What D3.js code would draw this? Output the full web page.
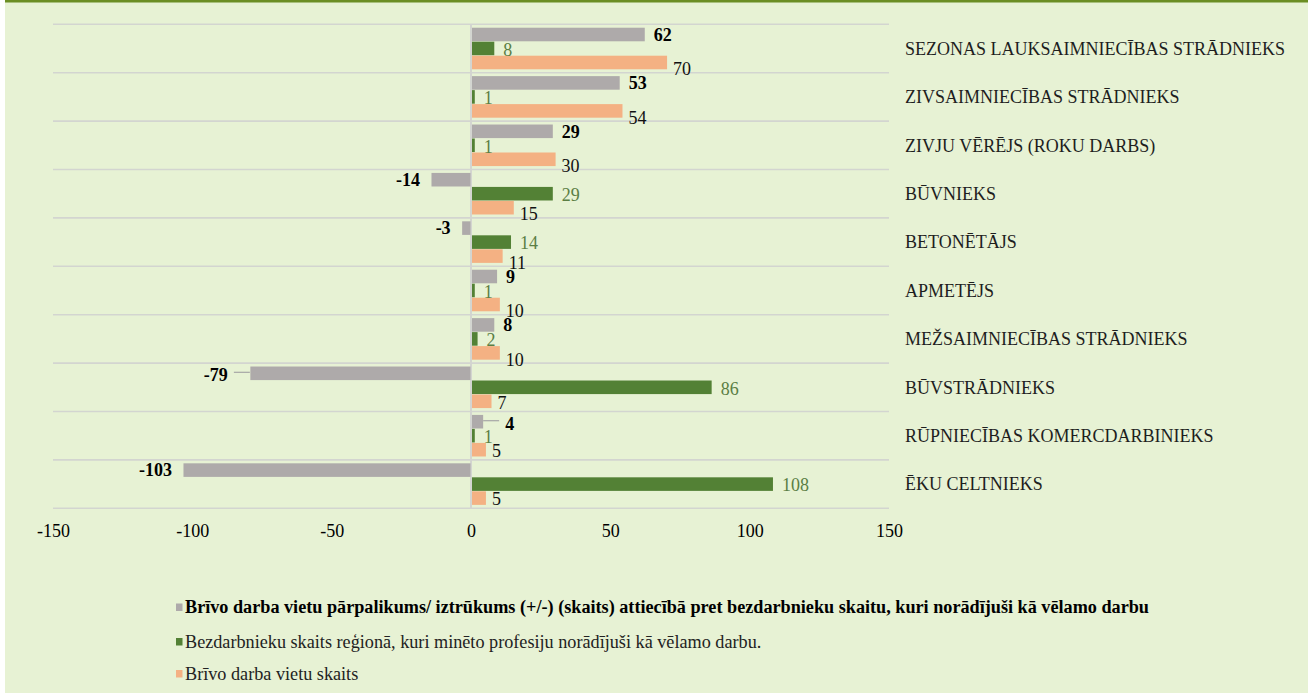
<!DOCTYPE html>
<html>
<head>
<meta charset="utf-8">
<script src="https://cdn.jsdelivr.net/npm/d3@7"></script>
<style>
  html, body { margin: 0; padding: 0; background: #ffffff; }
  svg { display: block; }
  svg text { font-family: "Liberation Serif", "Times New Roman", Times, serif !important; }
</style>
</head>
<body>
<svg id="chart" width="1308" height="693" font-family="Liberation Serif"></svg>
<script>
// ---- data ----
const categories = [
  "SEZONAS LAUKSAIMNIECĪBAS STRĀDNIEKS",
  "ZIVSAIMNIECĪBAS STRĀDNIEKS",
  "ZIVJU VĒRĒJS (ROKU DARBS)",
  "BŪVNIEKS",
  "BETONĒTĀJS",
  "APMETĒJS",
  "MEŽSAIMNIECĪBAS STRĀDNIEKS",
  "BŪVSTRĀDNIEKS",
  "RŪPNIECĪBAS KOMERCDARBINIEKS",
  "ĒKU CELTNIEKS"
];
const balance    = [62, 53, 29, -14, -3, 9, 8, -79, 4, -103];
const unemployed = [8, 1, 1, 29, 14, 1, 2, 86, 1, 108];
const vacancies  = [70, 54, 30, 15, 11, 10, 10, 7, 5, 5];
const seriesNames = [
  "Brīvo darba vietu pārpalikums/ iztrūkums (+/-) (skaits) attiecībā pret bezdarbnieku skaitu, kuri norādījuši kā vēlamo darbu",
  "Bezdarbnieku skaits reģionā, kuri minēto profesiju norādījuši kā vēlamo darbu.",
  "Brīvo darba vietu skaits"
];
const xTicks = [-150, -100, -50, 0, 50, 100, 150];
const leaderCategories = ["BŪVSTRĀDNIEKS", "RŪPNIECĪBAS KOMERCDARBINIEKS"];

// ---- styles ----
const FONT = '"Liberation Serif", "Times New Roman", Times, serif';
const colors = ["#aeaaaa", "#538135", "#f4b183"];
const labelColors = ["#000000", "#5b7e44", "#111111"];
const seriesKeys = ["balance", "unemployed", "vacancies"];
const seriesValues = [balance, unemployed, vacancies];

const svg = d3.select("#chart");
// background
svg.append("rect").attr("x", 5).attr("y", 0).attr("width", 1303).attr("height", 693).attr("fill", "#e7f2d4");
svg.append("rect").attr("x", 5).attr("y", 0).attr("width", 1303).attr("height", 2.5).attr("fill", "#6b8e23");

const x = d3.scaleLinear().domain([-150, 150]).range([53, 889]);
const y = d3.scaleBand().domain(categories).range([24.3, 508.3]).paddingInner(0).paddingOuter(0);
const ys = d3.scaleBand().domain(seriesKeys).range([3, y.bandwidth() - 3]).padding(0.03);

// horizontal gridlines at category boundaries
const bounds = categories.map(c => y(c)).concat([y.range()[1]]);
svg.append("g").selectAll("line").data(bounds).join("line")
  .attr("x1", x(-150)).attr("x2", x(150))
  .attr("y1", d => d).attr("y2", d => d)
  .attr("stroke", "#d3d5d0").attr("stroke-width", 1.6);

// zero axis line
svg.append("line")
  .attr("x1", x(0)).attr("x2", x(0))
  .attr("y1", y.range()[0]).attr("y2", y.range()[1])
  .attr("stroke", "#d3d5d0").attr("stroke-width", 2);

// bars
const rows = categories.map((c, i) => ({ c, vals: seriesValues.map(s => s[i]) }));
const gRows = svg.append("g").selectAll("g").data(rows).join("g")
  .attr("transform", d => `translate(0,${y(d.c)})`);

gRows.selectAll("rect").data(d => d.vals.map((v, k) => ({ v, k }))).join("rect")
  .attr("x", d => x(Math.min(0, d.v)) + (d.v >= 0 ? 1 : -0.5))
  .attr("width", d => Math.abs(x(d.v) - x(0)))
  .attr("y", d => ys(seriesKeys[d.k]))
  .attr("height", ys.bandwidth())
  .attr("fill", d => colors[d.k]);

// data labels
gRows.each(function (d) {
  const g = d3.select(this);
  const leader = leaderCategories.includes(d.c);
  d.vals.forEach((v, k) => {
    const cy = ys(seriesKeys[k]) + ys.bandwidth() / 2;
    let tx, anchor = "start", ty = cy;
    if (k === 0) {
      const off = leader ? 23 : (v >= 0 ? 10 : 12);
      if (v >= 0) { tx = x(v) + off; } else { tx = x(v) - off; anchor = "end"; }
      ty = leader ? cy + 1.5 : cy;
      if (leader) {
        const dir = v >= 0 ? 1 : -1;
        g.append("line")
          .attr("x1", x(v) + dir * 1).attr("x2", x(v) + dir * 17)
          .attr("y1", cy - 1).attr("y2", cy - 1)
          .attr("stroke", "#a6a6a6").attr("stroke-width", 1.2);
      }
    } else if (k === 1) {
      tx = x(v) + 10; ty = cy + 1;
    } else {
      tx = x(v) + 7; ty = cy + (v >= 10 ? 6.5 : 1);
    }
    g.append("text")
      .attr("x", tx).attr("y", ty).attr("dy", "0.35em")
      .attr("text-anchor", anchor)
      .attr("font-size", 18)
      .attr("font-weight", k === 0 ? "bold" : "normal")
      .attr("fill", labelColors[k])
      .style("font-family", FONT)
      .text(v);
  });
});

// category labels on the right
svg.append("g").selectAll("text").data(categories).join("text")
  .attr("x", 905).attr("y", d => y(d) + y.bandwidth() / 2).attr("dy", "0.35em")
  .attr("font-size", 18).attr("fill", "#1e1e1e")
  .style("font-family", FONT)
  .text(d => d);

// x axis tick labels
const axis = d3.axisBottom(x).tickValues(xTicks).tickSize(0).tickPadding(0).tickFormat(d => String(d));
const gAxis = svg.append("g").attr("transform", `translate(0,${y.range()[1]})`).call(axis);
gAxis.attr("font-family", null);
gAxis.select(".domain").remove();
gAxis.selectAll("text")
  .attr("y", 22.5).attr("dy", "0.35em")
  .attr("font-size", 18).attr("fill", "#000")
  .style("font-family", FONT);

// legend
const legendY = [607, 641.5, 673.5];
const lg = svg.append("g").selectAll("g").data(seriesNames).join("g")
  .attr("transform", (d, i) => `translate(176,${legendY[i]})`);
lg.append("rect").attr("x", 0).attr("y", -3.5).attr("width", 6.5).attr("height", 7.5)
  .attr("fill", (d, i) => colors[i]);
lg.append("text").attr("x", 9).attr("y", 0).attr("dy", "0.35em")
  .attr("font-size", 18.2)
  .attr("font-weight", (d, i) => i === 0 ? "bold" : "normal")
  .attr("fill", (d, i) => i === 0 ? "#000" : "#222")
  .style("font-family", FONT)
  .text(d => d);
</script>
</body>
</html>
